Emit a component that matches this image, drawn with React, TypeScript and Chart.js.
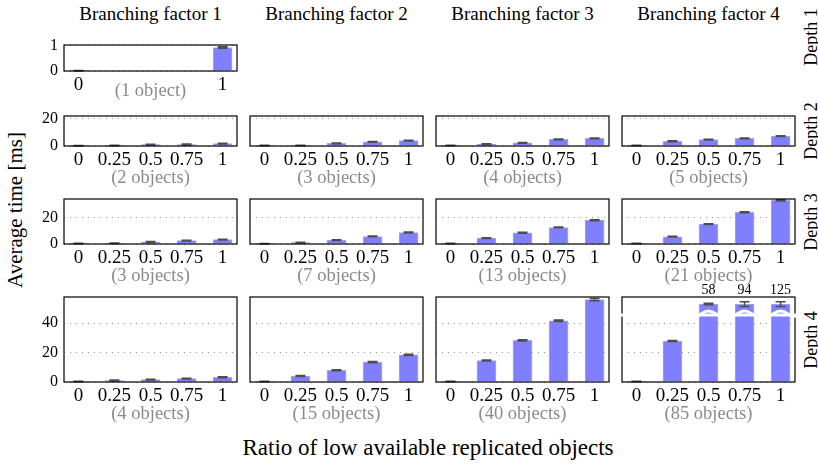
import React, { useEffect, useRef } from "react";
import { Chart, registerables } from "chart.js";

Chart.register(...registerables);

const FONT = "'Liberation Serif', 'Times New Roman', serif";

// ---- categories / tick labels ----
const ratios = [0, 0.25, 0.5, 0.75, 1];
const ratiosDepth1 = [0, 1];
const ratioTickLabels: Record<string, string> = { "0": "0", "0.25": "0.25", "0.5": "0.5", "0.75": "0.75", "1": "1" };
const branchingHeaders = ["Branching factor 1", "Branching factor 2", "Branching factor 3", "Branching factor 4"];
const depthLabels = ["Depth 1", "Depth 2", "Depth 3", "Depth 4"];
const yTitle = "Average time [ms]";
const xTitle = "Ratio of low available replicated objects";

// ---- series values (ms) and errors ----
const d1b1 = [0.01, 0.93];
const e1b1 = [0.01, 0.03];

const d2b1 = [0.2, 0.3, 1.0, 1.1, 1.8];
const e2b1 = [0.2, 0.2, 0.3, 0.3, 0.3];
const d2b2 = [0.3, 0.3, 1.9, 3.0, 4.0];
const e2b2 = [0.2, 0.2, 0.3, 0.3, 0.3];
const d2b3 = [0.3, 1.4, 2.3, 4.9, 5.6];
const e2b3 = [0.2, 0.3, 0.3, 0.3, 0.3];
const d2b4 = [0.3, 3.5, 4.7, 5.6, 7.2];
const e2b4 = [0.2, 0.3, 0.3, 0.3, 0.3];

const d3b1 = [0.3, 0.5, 1.5, 2.5, 3.3];
const e3b1 = [0.2, 0.2, 0.3, 0.3, 0.3];
const d3b2 = [0.2, 1.0, 3.0, 5.7, 8.7];
const e3b2 = [0.2, 0.3, 0.3, 0.3, 0.3];
const d3b3 = [0.3, 4.5, 8.5, 12.5, 18.0];
const e3b3 = [0.2, 0.3, 0.3, 0.3, 0.4];
const d3b4 = [0.3, 5.5, 15.0, 24.0, 33.0];
const e3b4 = [0.2, 0.3, 0.3, 0.4, 0.5];

const d4b1 = [0.3, 1.0, 1.6, 2.3, 3.2];
const e4b1 = [0.2, 0.3, 0.3, 0.3, 0.3];
const d4b2 = [0.3, 4.1, 8.0, 13.5, 18.5];
const e4b2 = [0.2, 0.3, 0.4, 0.4, 0.4];
const d4b3 = [0.3, 14.6, 28.3, 41.6, 56.0];
const e4b3 = [0.2, 0.4, 0.4, 0.5, 0.7];
const d4b4 = [0.3, 27.9, 58, 94, 125];
const e4b4 = [0.2, 0.4, 0.5, 1.6, 1.6];

const objectCounts = [[1], [2, 3, 4, 5], [3, 7, 13, 21], [4, 15, 40, 85]];

// ---- y-axis per depth row ----
const rowMax = [1.03, 22, 34, 57.8];
const rowGrid = [[0, 0.5, 1], [0, 10, 20], [0, 10, 20, 30], [0, 10, 20, 30, 40, 50]];
const rowLabeled = [[0, 1], [0, 20], [0, 20], [0, 20, 40]];

// broken-axis display (style, row 4 / factor 4)
const BREAK_AT = 53;
const BREAK_WAVE = 45.5;

// ---- layout ----
const COL_LEFT = [64, 250, 436, 622];
const PANEL_W = 173;
const ROW_TOP = [45, 116, 199, 297];
const ROW_H = [26, 30, 45, 85];
const OBJ_OFFSET = [20, 32, 32, 32];
const ML = 50, MR = 12, MT = 22, MB = 44;

type Spec = { row: number; col: number; xs: number[]; values: number[]; errors: number[] };

const panels: Spec[] = [
  { row: 0, col: 0, xs: ratiosDepth1, values: d1b1, errors: e1b1 },
  { row: 1, col: 0, xs: ratios, values: d2b1, errors: e2b1 },
  { row: 1, col: 1, xs: ratios, values: d2b2, errors: e2b2 },
  { row: 1, col: 2, xs: ratios, values: d2b3, errors: e2b3 },
  { row: 1, col: 3, xs: ratios, values: d2b4, errors: e2b4 },
  { row: 2, col: 0, xs: ratios, values: d3b1, errors: e3b1 },
  { row: 2, col: 1, xs: ratios, values: d3b2, errors: e3b2 },
  { row: 2, col: 2, xs: ratios, values: d3b3, errors: e3b3 },
  { row: 2, col: 3, xs: ratios, values: d3b4, errors: e3b4 },
  { row: 3, col: 0, xs: ratios, values: d4b1, errors: e4b1 },
  { row: 3, col: 1, xs: ratios, values: d4b2, errors: e4b2 },
  { row: 3, col: 2, xs: ratios, values: d4b3, errors: e4b3 },
  { row: 3, col: 3, xs: ratios, values: d4b4, errors: e4b4 },
];

function Panel({ spec }: { spec: Spec }) {
  const ref = useRef<HTMLCanvasElement>(null);
  const w = PANEL_W + ML + MR;
  const h = ROW_H[spec.row] + MT + MB;

  useEffect(() => {
    const max = rowMax[spec.row];
    const broken = spec.values.map((v) => v > max);
    const shown = spec.values.map((v, i) => (broken[i] ? BREAK_AT : v));
    const n = objectCounts[spec.row][spec.col];
    const objLabel = n === 1 ? "(1 object)" : `(${n} objects)`;

    const deco = {
      id: "deco",
      afterDatasetsDraw(chart: any) {
        const { ctx, chartArea: a, scales } = chart;
        const x = scales.x, y = scales.y;
        ctx.save();
        // error bars
        ctx.strokeStyle = "#4d4d4d";
        ctx.lineWidth = 1.5;
        spec.xs.forEach((xv, i) => {
          const px = x.getPixelForValue(xv);
          const v = shown[i];
          const e = spec.errors[i];
          const yt = y.getPixelForValue(v + e);
          const yb = y.getPixelForValue(Math.max(0, v - e));
          ctx.beginPath();
          ctx.moveTo(px, yt); ctx.lineTo(px, yb);
          ctx.moveTo(px - 5, yt); ctx.lineTo(px + 5, yt);
          ctx.moveTo(px - 5, yb); ctx.lineTo(px + 5, yb);
          ctx.stroke();
        });
        // frame
        ctx.strokeStyle = "#000";
        ctx.lineWidth = 1.2;
        ctx.strokeRect(a.left, a.top, a.right - a.left, a.bottom - a.top);
        // broken axis
        if (broken.some(Boolean)) {
          const yw = y.getPixelForValue(BREAK_WAVE);
          ctx.strokeStyle = "#fff";
          ctx.lineWidth = 3;
          ctx.beginPath();
          ctx.moveTo(a.left - 3, yw);
          ctx.lineTo(a.right + 3, yw);
          ctx.stroke();
          spec.xs.forEach((xv, i) => {
            if (!broken[i]) return;
            const px = x.getPixelForValue(xv);
            ctx.beginPath();
            ctx.moveTo(px - 16, yw + 1);
            ctx.bezierCurveTo(px - 8, yw + 2, px - 7, yw - 4, px, yw - 4);
            ctx.bezierCurveTo(px + 7, yw - 4, px + 8, yw + 2, px + 16, yw + 1);
            ctx.stroke();
          });
          ctx.fillStyle = "#000";
          ctx.font = `14px ${FONT}`;
          ctx.textAlign = "center";
          ctx.textBaseline = "middle";
          spec.xs.forEach((xv, i) => {
            if (!broken[i]) return;
            ctx.fillText(String(spec.values[i]), x.getPixelForValue(xv), a.top - 7);
          });
        }
        // object count label
        ctx.fillStyle = "#8a8a8a";
        ctx.font = `18.5px ${FONT}`;
        ctx.textAlign = "center";
        ctx.textBaseline = "middle";
        ctx.fillText(objLabel, (a.left + a.right) / 2, a.bottom + OBJ_OFFSET[spec.row]);
        ctx.restore();
      },
    };

    const chart = new Chart(ref.current!, {
      type: "bar",
      data: {
        datasets: [
          {
            data: spec.xs.map((xv, i) => ({ x: xv, y: shown[i] })),
            backgroundColor: "#8080ff",
            borderColor: "#a6a6ff",
            borderWidth: 1,
            barThickness: 19,
          } as any,
        ],
      },
      options: {
        responsive: false,
        animation: false,
        devicePixelRatio: 1,
        layout: { padding: { top: MT, right: MR, left: 0, bottom: 0 } },
        plugins: { legend: { display: false }, tooltip: { enabled: false } },
        scales: {
          x: {
            type: "linear",
            min: -0.1,
            max: 1.1,
            offset: false,
            afterBuildTicks: (s: any) => {
              s.ticks = spec.xs.map((v) => ({ value: v }));
            },
            afterFit: (s: any) => {
              s.height = MB;
            },
            grid: { display: false, drawTicks: false },
            border: { display: false },
            ticks: {
              autoSkip: false,
              maxRotation: 0,
              minRotation: 0,
              padding: 3,
              color: "#000",
              font: { family: FONT, size: 19 },
              callback: (v: any) => ratioTickLabels[String(v)] ?? String(v),
            },
          },
          y: {
            min: 0,
            max,
            afterBuildTicks: (s: any) => {
              s.ticks = rowGrid[spec.row].map((v) => ({ value: v }));
            },
            afterFit: (s: any) => {
              s.width = ML;
            },
            grid: { color: "#999999", lineWidth: 1, drawTicks: false },
            border: { display: false, dash: [1, 5] },
            ticks: {
              padding: 6,
              color: "#000",
              font: { family: FONT, size: 16 },
              callback: (v: any) =>
                spec.col === 0 && rowLabeled[spec.row].includes(Number(v)) ? String(v) : "",
            },
          },
        },
      } as any,
      plugins: [deco],
    });
    return () => chart.destroy();
  }, [spec]);

  return (
    <canvas
      ref={ref}
      width={w}
      height={h}
      style={{
        position: "absolute",
        left: COL_LEFT[spec.col] - ML,
        top: ROW_TOP[spec.row] - MT,
        width: w,
        height: h,
      }}
    />
  );
}

export default function App() {
  const text: React.CSSProperties = {
    position: "absolute",
    fontFamily: FONT,
    color: "#000",
    whiteSpace: "nowrap",
    lineHeight: 1,
  };
  return (
    <div style={{ position: "absolute", left: 0, top: 0, width: 818, height: 464, background: "#fff", overflow: "hidden" }}>
      {branchingHeaders.map((t, c) => (
        <div
          key={t}
          style={{ ...text, fontSize: 19, left: COL_LEFT[c] + PANEL_W / 2, top: 13, transform: "translate(-50%, -50%)" }}
        >
          {t}
        </div>
      ))}
      {depthLabels.map((t, r) => (
        <div
          key={t}
          style={{
            ...text,
            fontSize: 18,
            left: 811,
            top: r === 0 ? 37 : ROW_TOP[r] + ROW_H[r] / 2,
            transform: "translate(-50%, -50%) rotate(-90deg)",
          }}
        >
          {t}
        </div>
      ))}
      <div style={{ ...text, fontSize: 21, left: 15, top: 210, transform: "translate(-50%, -50%) rotate(-90deg)" }}>
        {yTitle}
      </div>
      <div style={{ ...text, fontSize: 23, left: 428, top: 447, transform: "translate(-50%, -50%)" }}>{xTitle}</div>
      {panels.map((p) => (
        <Panel key={`${p.row}-${p.col}`} spec={p} />
      ))}
    </div>
  );
}
